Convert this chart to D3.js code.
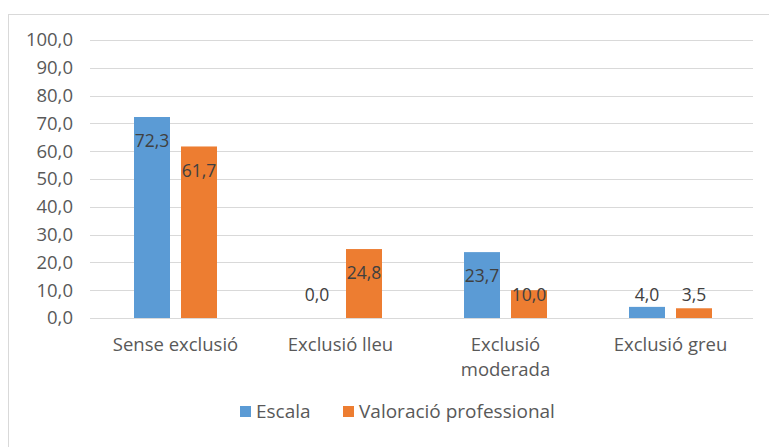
<!DOCTYPE html>
<html>
<head>
<meta charset="utf-8">
<script src="https://cdn.jsdelivr.net/npm/d3@7/dist/d3.min.js"></script>
<style>
  html, body { margin: 0; padding: 0; background: #fff; }
  svg { display: block; }
  text { font-family: "Open Sans", "Noto Sans", sans-serif; }
</style>
</head>
<body>
<svg id="chart" width="769" height="447"></svg>
<script>
// Categories, series and tick labels
const categories = ["Sense exclusió", "Exclusió lleu", "Exclusió moderada", "Exclusió greu"];
const categoryLines = [["Sense exclusió"], ["Exclusió lleu"], ["Exclusió", "moderada"], ["Exclusió greu"]];
const seriesNames = ["Escala", "Valoració professional"];
const escala = [72.3, 0.0, 23.7, 4.0];
const valoracio = [61.7, 24.8, 10.0, 3.5];
const yTicks = [0, 10, 20, 30, 40, 50, 60, 70, 80, 90, 100];

const colors = ["#5B9BD5", "#ED7D31"];
const textColor = "#595959";
const fmt = v => d3.format(".1f")(v).replace(".", ",");

const svg = d3.select("#chart");
const W = 769, H = 447;

// Chart frame
svg.append("rect")
  .attr("x", 8.5).attr("y", 14.5)
  .attr("width", W + 10).attr("height", H + 10)
  .attr("fill", "#fff").attr("stroke", "#D9D9D9").attr("stroke-width", 1);

const plot = { left: 91, right: 753, top: 40, bottom: 318 };

const x = d3.scaleBand().domain(categories).range([plot.left + 2, plot.right]).paddingInner(0).paddingOuter(0);
const y = d3.scaleLinear().domain([0, 100]).range([plot.bottom, plot.top]);

const barW = 36, barGap = 11;

// Gridlines
svg.append("g")
  .selectAll("line")
  .data(yTicks)
  .join("line")
  .attr("x1", plot.left - 1).attr("x2", plot.right)
  .attr("y1", d => Math.round(y(d)) + 0.5).attr("y2", d => Math.round(y(d)) + 0.5)
  .attr("stroke", "#D9D9D9").attr("stroke-width", 1);

// Y axis labels
const yAxis = d3.axisLeft(y).tickValues(yTicks).tickFormat(fmt).tickSize(0).tickPadding(0);
const yg = svg.append("g").attr("transform", `translate(${plot.left - 18},0)`).call(yAxis);
yg.select(".domain").remove();
yg.selectAll("text").attr("fill", textColor).attr("font-size", 18.5).attr("font-family", "\"Open Sans\", sans-serif");

const data = categories.map((c, i) => ({ cat: c, values: [
  { s: seriesNames[0], v: escala[i], color: colors[0] },
  { s: seriesNames[1], v: valoracio[i], color: colors[1] }
]}));

const groupW = barW * 2 + barGap;
const groups = svg.append("g").selectAll("g")
  .data(data)
  .join("g")
  .attr("transform", d => `translate(${x(d.cat) + x.bandwidth() / 2 - groupW / 2},0)`);

const barX = (d, j) => j * (barW + barGap);

groups.selectAll("rect")
  .data(d => d.values)
  .join("rect")
  .attr("x", (d, j) => barX(d, j))
  .attr("width", barW)
  .attr("y", d => y(d.v))
  .attr("height", d => y(0) - y(d.v))
  .attr("fill", d => d.color);

// Value labels: near the top inside tall bars, above the baseline zone otherwise
groups.selectAll("text.val")
  .data(d => d.values)
  .join("text")
  .attr("class", "val")
  .attr("x", (d, j) => barX(d, j) + barW / 2)
  .attr("y", d => Math.min(y(d.v) + 24, y(0) - 23))
  .attr("dy", "0.35em")
  .attr("text-anchor", "middle")
  .attr("font-size", 17.5)
  .attr("fill", "#404040")
  .text(d => fmt(d.v));

// Category labels
const catG = svg.append("g");
categories.forEach((c, i) => {
  const t = catG.append("text")
    .attr("x", x(c) + x.bandwidth() / 2)
    .attr("y", 345)
    .attr("text-anchor", "middle")
    .attr("font-size", 18.5)
    .attr("fill", textColor);
  categoryLines[i].forEach((line, k) => {
    t.append("tspan")
      .attr("x", x(c) + x.bandwidth() / 2)
      .attr("y", 345 + k * 25)
      .attr("dy", "0.35em")
      .text(line);
  });
});

// Legend
const legend = svg.append("g");
const legendItems = [
  { name: seriesNames[0], color: colors[0], x: 240 },
  { name: seriesNames[1], color: colors[1], x: 343 }
];
legendItems.forEach(it => {
  legend.append("rect").attr("x", it.x).attr("y", 406).attr("width", 11).attr("height", 11).attr("fill", it.color);
  legend.append("text").attr("x", it.x + 16).attr("y", 411).attr("dy", "0.35em")
    .attr("font-size", 19).attr("fill", textColor).text(it.name);
});
</script>
</body>
</html>
